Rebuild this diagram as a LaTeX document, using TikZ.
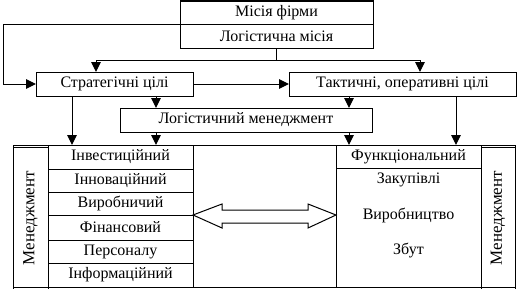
\documentclass[tikz,border=0pt]{standalone}
\usepackage{fontspec}
\setmainfont{Liberation Serif}
\usetikzlibrary{arrows.meta}
\begin{document}
\begin{tikzpicture}[x=1pt,y=-1pt,
  lw/.style={line width=1pt},
  txt/.style={font=\fontsize{16}{18}\selectfont},
  box/.style={draw,lw,rectangle,inner sep=0pt,outer sep=0pt,anchor=center,txt},
  arr/.style={lw,-{Triangle[length=10pt,width=9.5pt]}},
  ln/.style={lw}]
\useasboundingbox (0,0) rectangle (517,289);
% top
\node[box,minimum width=193pt,minimum height=23pt] (mis) at (276.5,12.5) {Місія фірми};
\node[box,minimum width=193pt,minimum height=24pt] (log) at (276.5,36) {Логістична місія};
\node[box,minimum width=157pt,minimum height=24pt] (str) at (114.5,84) {Стратегічні цілі};
\node[box,minimum width=227pt,minimum height=24pt] (tak) at (402.5,84) {Тактичні, оперативні цілі};
\node[box,minimum width=252pt,minimum height=24pt] (lm) at (246,120) {Логістичний менеджмент};
% bottom frame
\node[box,minimum width=502pt,minimum height=142pt] (frame) at (264,216) {};
\node[box,minimum width=35pt,minimum height=142pt,font=\fontsize{17}{19}\selectfont] (lmen) at (30.5,218) {\rotatebox{90}{Менеджмент}};
\node[box,minimum width=145pt,minimum height=24pt] (r1) at (120.5,157) {Інвестиційний};
\node[box,minimum width=145pt,minimum height=23pt] (r2) at (120.5,180.5) {Інноваційний};
\node[box,minimum width=145pt,minimum height=23pt] (r3) at (120.5,203.5) {Виробничий};
\node[box,minimum width=145pt,minimum height=25pt] (r4) at (120.5,227.5) {Фінансовий};
\node[box,minimum width=145pt,minimum height=23pt] (r5) at (120.5,251.5) {Персоналу};
\node[box,minimum width=145pt,minimum height=24pt] (r6) at (120.5,275) {Інформаційний};
\node[box,minimum width=145pt,minimum height=23pt] (fun) at (408.5,156.5) {Функціональний};
\node[box,minimum width=145pt,minimum height=119pt] (fbody) at (408.5,227.5) {};
\node[txt,inner sep=0pt] (zak) at (408.5,180) {Закупівлі};
\node[txt,inner sep=0pt] (vyr) at (408.5,215) {Виробництво};
\node[txt,inner sep=0pt] (zb) at (408.5,250) {Збут};
\node[box,minimum width=34pt,minimum height=142pt,font=\fontsize{17}{19}\selectfont] (rmen) at (498,218) {\rotatebox{90}{Менеджмент}};
% helper coordinates
\coordinate (j) at (276,60);
\coordinate (l) at (3,24);
\coordinate (xa) at (96,0);
\coordinate (xb) at (420,0);
\coordinate (x1) at (72,0);
\coordinate (x2) at (156,0);
\coordinate (x3) at (349,0);
\coordinate (x4) at (456,0);
% connectors
\draw[ln] (log.south -| j) -- (j);
\draw[arr] (j) -| (str.north -| xa);
\draw[arr] (j) -| (tak.north -| xb);
\draw[arr] (mis.south west) -- (l) |- (str.west);
\draw[arr] (str.east) -- (tak.west);
\draw[arr] (str.south -| x1) -- (r1.north -| x1);
\draw[arr] (str.south -| x2) -- (lm.north -| x2);
\draw[arr] (lm.south -| x2) -- (r1.north -| x2);
\draw[arr] (tak.south -| x3) -- (lm.north -| x3);
\draw[arr] (lm.south -| x3) -- (fun.north -| x3);
\draw[arr] (tak.south -| x4) -- (fun.north -| x4);
% double arrow
\draw[lw,fill=white,line join=miter] (193,215) -- (222,204) -- (222,210) -- (308,210) -- (308,204) -- (336,215) -- (308,228) -- (308,223) -- (222,223) -- (222,228) -- cycle;
\end{tikzpicture}
\end{document}
